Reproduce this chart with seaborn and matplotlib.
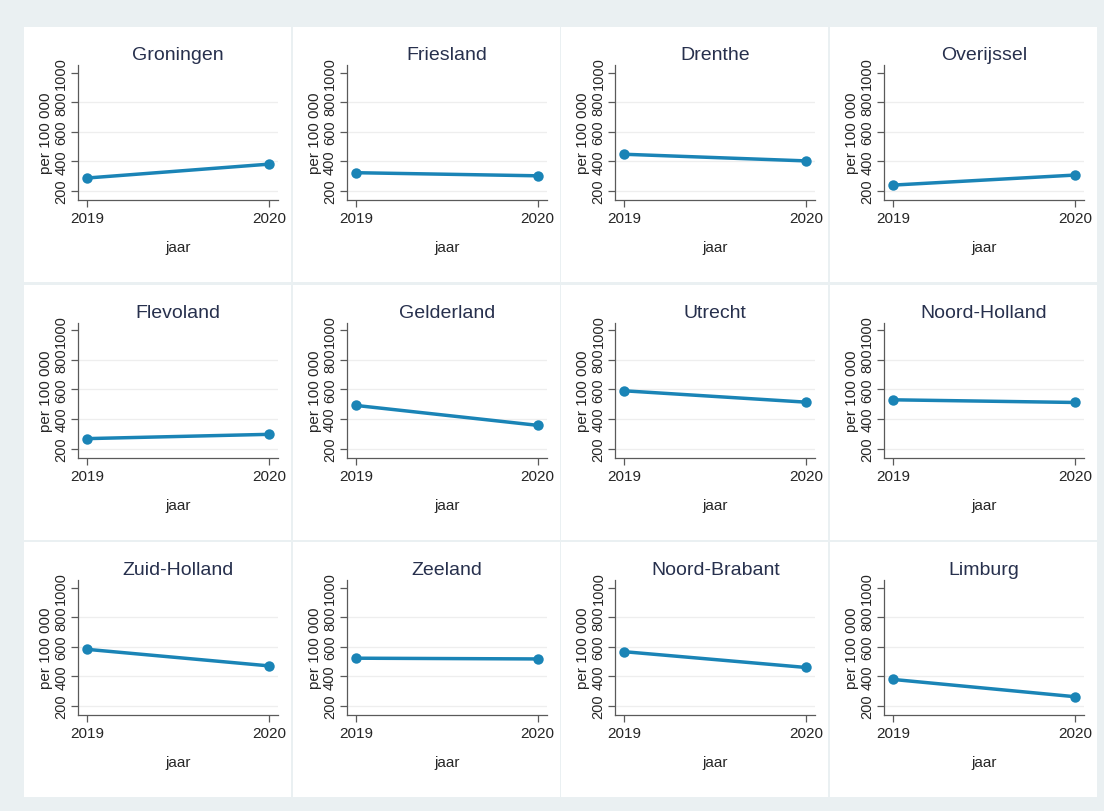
import matplotlib
matplotlib.use("Agg")
import matplotlib.pyplot as plt
from matplotlib.patches import Rectangle
import numpy as np
import pandas as pd
import seaborn as sns

# Rates per 100 000 inhabitants, by province and year
provinces = ["Groningen", "Friesland", "Drenthe", "Overijssel",
             "Flevoland", "Gelderland", "Utrecht", "Noord-Holland",
             "Zuid-Holland", "Zeeland", "Noord-Brabant", "Limburg"]
years = [2019, 2020]
rate_2019 = [288, 324, 449, 240, 267, 492, 591, 530, 584, 524, 568, 380]
rate_2020 = [382, 303, 404, 308, 296, 357, 514, 512, 472, 519, 461, 263]
y_ticks = [200, 400, 600, 800, 1000]

records = []
for p, a, b in zip(provinces, rate_2019, rate_2020):
    records.append({"provincie": p, "jaar": years[0], "rate": a})
    records.append({"provincie": p, "jaar": years[1], "rate": b})
df = pd.DataFrame(records)

sns.set_theme(style="white")
plt.rcParams["font.family"] = ["Liberation Sans", "DejaVu Sans"]

W, H = 1104, 812
fig = plt.figure(figsize=(W / 100, H / 100), dpi=100)
fig.patch.set_facecolor("#eaf0f2")

line_color = "#1a84b6"
title_color = "#27304d"
text_color = "#262626"
axis_color = "#5a5a5a"

panel_x0 = [24, 292.7, 561.3, 830]
panel_y0 = [28, 285.5, 543]
panel_w, panel_h = 267, 255


def fx(px):
    return px / W


def fy(py):
    return 1 - py / H


for i, prov in enumerate(provinces):
    r, c = divmod(i, 4)
    x0, y0 = panel_x0[c], panel_y0[r]
    # white panel background
    fig.patches.append(Rectangle((fx(x0), fy(y0 + panel_h)), panel_w / W, panel_h / H,
                                 transform=fig.transFigure, facecolor="white",
                                 edgecolor="none", zorder=-5))
    ax_left, ax_top = x0 + 54, y0 + 38
    ax_w, ax_h = 200, 135
    ax = fig.add_axes([fx(ax_left), fy(ax_top + ax_h), ax_w / W, ax_h / H])
    ax.set_zorder(2)
    ax.set_facecolor("white")
    for yv in y_ticks[:-1]:
        ax.axhline(yv, color="#eeeeee", lw=0.9, zorder=0)
    sub = df[df["provincie"] == prov]
    sns.lineplot(data=sub, x="jaar", y="rate", ax=ax, color=line_color,
                 linewidth=2.5, marker="o", markersize=7.5, markeredgewidth=0,
                 zorder=3)
    ax.set_xlim(2018.95, 2020.05)
    ax.set_ylim(139, 1054)
    ax.set_xticks(years)
    ax.set_xticklabels([str(y) for y in years], fontsize=11, color=text_color)
    ax.set_yticks(y_ticks)
    ax.set_yticklabels([str(v) for v in y_ticks], fontsize=10.5, color=text_color,
                       rotation=90, va="center")
    ax.tick_params(axis="both", which="both", length=5, width=0.9,
                   color=axis_color, direction="out", pad=2,
                   bottom=True, left=True)
    ax.tick_params(axis="x", pad=3)
    for s in ["top", "right"]:
        ax.spines[s].set_visible(False)
    for s in ["left", "bottom"]:
        ax.spines[s].set_color(axis_color)
        ax.spines[s].set_linewidth(0.9)
    ax.set_xlabel("jaar", fontsize=11, color=text_color, labelpad=11)
    ax.set_ylabel("per 100 000", fontsize=11, color=text_color, labelpad=1)
    ax.set_title(prov, fontsize=14, color=title_color, pad=4)
    ax.grid(False)

fig.savefig("out.png", dpi=100, facecolor=fig.get_facecolor())
